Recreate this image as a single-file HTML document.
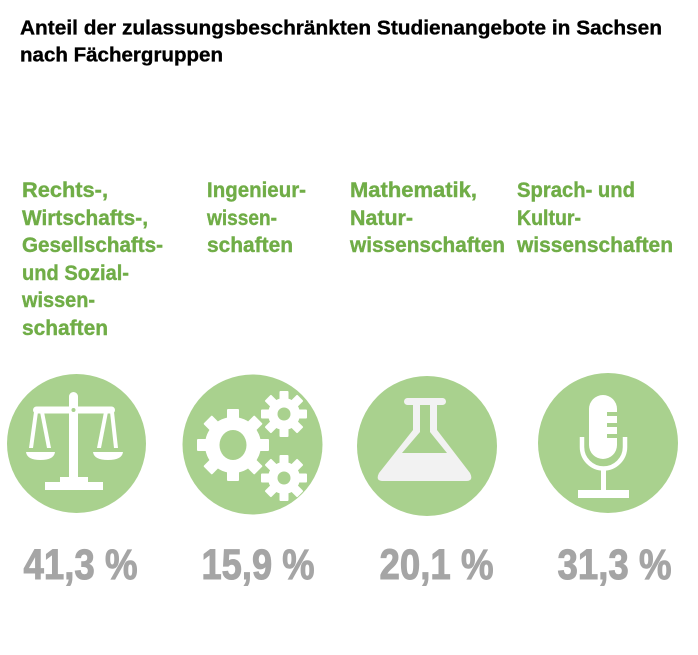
<!DOCTYPE html>
<html>
<head>
<meta charset="utf-8">
<style>
  html,body{margin:0;padding:0;background:#fff;}
  svg{display:block;}
  text{font-family:"Liberation Sans",Arial,sans-serif;font-weight:bold;}
</style>
</head>
<body>
<svg width="698" height="655" viewBox="0 0 698 655" xmlns="http://www.w3.org/2000/svg">
  <rect width="698" height="655" fill="#fff"/>
  <!-- Title -->
  <g fill="#000" stroke="#000" stroke-width="0.35" font-size="20.5">
    <text x="20" y="34.5" textLength="642" lengthAdjust="spacingAndGlyphs">Anteil der zulassungsbeschränkten Studienangebote in Sachsen</text>
    <text x="20" y="61.5" textLength="203" lengthAdjust="spacingAndGlyphs">nach Fächergruppen</text>
  </g>

  <!-- Labels -->
  <g fill="#70ad47" stroke="#70ad47" stroke-width="0.4" font-size="21.5">
    <text x="22" y="197" textLength="86" lengthAdjust="spacingAndGlyphs">Rechts-,</text>
    <text x="22" y="225" textLength="126" lengthAdjust="spacingAndGlyphs">Wirtschafts-,</text>
    <text x="22" y="252" textLength="141" lengthAdjust="spacingAndGlyphs">Gesellschafts-</text>
    <text x="22" y="280" textLength="107" lengthAdjust="spacingAndGlyphs">und Sozial-</text>
    <text x="22" y="307" textLength="73" lengthAdjust="spacingAndGlyphs">wissen-</text>
    <text x="22" y="335" textLength="86" lengthAdjust="spacingAndGlyphs">schaften</text>

    <text x="207" y="197" textLength="99" lengthAdjust="spacingAndGlyphs">Ingenieur-</text>
    <text x="207" y="225" textLength="70" lengthAdjust="spacingAndGlyphs">wissen-</text>
    <text x="207" y="252" textLength="86" lengthAdjust="spacingAndGlyphs">schaften</text>

    <text x="350" y="197" textLength="127" lengthAdjust="spacingAndGlyphs">Mathematik,</text>
    <text x="350" y="225" textLength="63" lengthAdjust="spacingAndGlyphs">Natur-</text>
    <text x="350" y="252" textLength="155" lengthAdjust="spacingAndGlyphs">wissenschaften</text>

    <text x="517" y="197" textLength="118" lengthAdjust="spacingAndGlyphs">Sprach- und</text>
    <text x="517" y="225" textLength="64" lengthAdjust="spacingAndGlyphs">Kultur-</text>
    <text x="517" y="252" textLength="156" lengthAdjust="spacingAndGlyphs">wissenschaften</text>
  </g>

  <!-- Circles -->
  <g fill="#a9d18e">
    <circle cx="76.5" cy="443.5" r="69.5"/>
    <circle cx="252.5" cy="444.5" r="70"/>
    <circle cx="427" cy="446" r="70"/>
    <circle cx="608" cy="443" r="70"/>
  </g>

  <!-- Scales icon -->
  <g fill="#fff">
    <rect x="69" y="392" width="9" height="90" rx="4.5"/>
    <rect x="33" y="406.5" width="82" height="7" rx="3.5"/>
    <polygon points="34,412 38,412 33,448 29,448"/>
    <polygon points="40,412 44,412 51,448 47,448"/>
    <path d="M26,452 H55 Q54,460 40.5,460 Q27,460 26,452 Z"/>
    <polygon points="104,412 108,412 101,448 97,448"/>
    <polygon points="110,412 114,412 118,448 114,448"/>
    <path d="M93,452 H123 Q122,460 108,460 Q94,460 93,452 Z"/>
    <rect x="60" y="477" width="28" height="6"/>
    <rect x="45" y="482" width="58" height="8"/>
  </g>
  <circle cx="73.5" cy="410" r="2" fill="#a9d18e"/>

  <!-- Gears icon -->
  <g fill="#fff">
    <g transform="translate(233,445)">
      <circle r="28"/>
      <rect x="-6" y="-36" width="12" height="14" rx="1"/>
      <rect x="-6" y="-36" width="12" height="14" rx="1" transform="rotate(45)"/>
      <rect x="-6" y="-36" width="12" height="14" rx="1" transform="rotate(90)"/>
      <rect x="-6" y="-36" width="12" height="14" rx="1" transform="rotate(135)"/>
      <rect x="-6" y="-36" width="12" height="14" rx="1" transform="rotate(180)"/>
      <rect x="-6" y="-36" width="12" height="14" rx="1" transform="rotate(225)"/>
      <rect x="-6" y="-36" width="12" height="14" rx="1" transform="rotate(270)"/>
      <rect x="-6" y="-36" width="12" height="14" rx="1" transform="rotate(315)"/>
      <ellipse rx="13.5" ry="15" fill="#a9d18e"/>
    </g>
    <g transform="translate(284,414)">
      <circle r="16"/>
      <rect x="-4.5" y="-23" width="9" height="10" rx="1"/>
      <rect x="-4.5" y="-23" width="9" height="10" rx="1" transform="rotate(45)"/>
      <rect x="-4.5" y="-23" width="9" height="10" rx="1" transform="rotate(90)"/>
      <rect x="-4.5" y="-23" width="9" height="10" rx="1" transform="rotate(135)"/>
      <rect x="-4.5" y="-23" width="9" height="10" rx="1" transform="rotate(180)"/>
      <rect x="-4.5" y="-23" width="9" height="10" rx="1" transform="rotate(225)"/>
      <rect x="-4.5" y="-23" width="9" height="10" rx="1" transform="rotate(270)"/>
      <rect x="-4.5" y="-23" width="9" height="10" rx="1" transform="rotate(315)"/>
      <circle r="6.5" fill="#a9d18e"/>
    </g>
    <g transform="translate(284,478)">
      <circle r="16"/>
      <rect x="-4.5" y="-23" width="9" height="10" rx="1"/>
      <rect x="-4.5" y="-23" width="9" height="10" rx="1" transform="rotate(45)"/>
      <rect x="-4.5" y="-23" width="9" height="10" rx="1" transform="rotate(90)"/>
      <rect x="-4.5" y="-23" width="9" height="10" rx="1" transform="rotate(135)"/>
      <rect x="-4.5" y="-23" width="9" height="10" rx="1" transform="rotate(180)"/>
      <rect x="-4.5" y="-23" width="9" height="10" rx="1" transform="rotate(225)"/>
      <rect x="-4.5" y="-23" width="9" height="10" rx="1" transform="rotate(270)"/>
      <rect x="-4.5" y="-23" width="9" height="10" rx="1" transform="rotate(315)"/>
      <circle r="6.5" fill="#a9d18e"/>
    </g>
  </g>

  <!-- Flask icon -->
  <g fill="#f2f2f2">
    <path d="M413,403 H437 V430 L470,473 Q474,481 466,481 H383 Q375,481 379,473 L413,430 Z"/>
    <rect x="404" y="398" width="42" height="7" rx="3.5"/>
  </g>
  <polygon points="420,405 430,405 430,432 447,453 402,453 420,432" fill="#a9d18e"/>

  <!-- Microphone icon -->
  <rect x="589" y="395" width="28" height="64" rx="14" fill="#fff"/>
  <g fill="#a9d18e">
    <rect x="607" y="412" width="11" height="4"/>
    <rect x="607" y="423" width="11" height="4"/>
    <rect x="607" y="434" width="11" height="4"/>
  </g>
  <path d="M582,437 V447 A21.5,21.5 0 0 0 625,447 V437" fill="none" stroke="#fff" stroke-width="4.5"/>
  <g fill="#fff">
    <rect x="601" y="467" width="5" height="24"/>
    <rect x="578" y="490" width="51" height="8"/>
  </g>

  <!-- Percentages -->
  <g fill="#a5a5a5" stroke="#a5a5a5" stroke-width="1" font-size="43">
    <text x="23.5" y="579" textLength="114" lengthAdjust="spacingAndGlyphs">41,3 %</text>
    <text x="201.5" y="579" textLength="113" lengthAdjust="spacingAndGlyphs">15,9 %</text>
    <text x="379.5" y="579" textLength="114" lengthAdjust="spacingAndGlyphs">20,1 %</text>
    <text x="557.5" y="579" textLength="114" lengthAdjust="spacingAndGlyphs">31,3 %</text>
  </g>
</svg>
</body>
</html>
